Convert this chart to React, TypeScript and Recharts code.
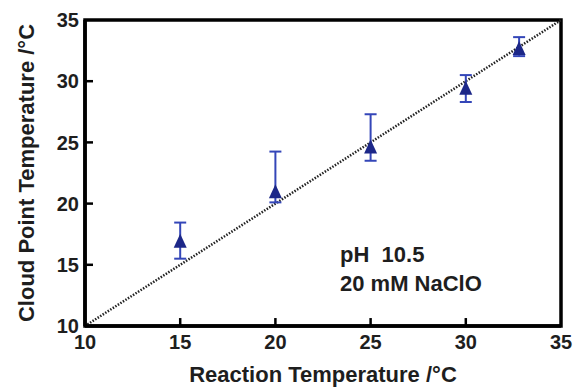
import {
  ScatterChart,
  Scatter,
  XAxis,
  YAxis,
  ErrorBar,
  ReferenceLine,
  ReferenceArea,
  Label
} from "recharts";

// reaction temperature (x) vs cloud point temperature (y), with error range
const reactionTemp = [15, 20, 25, 30, 32.8];
const cloudPoint = [16.8, 20.85, 24.5, 29.3, 32.55];
const cloudLow = [15.5, 20.1, 23.5, 28.3, 32.05];
const cloudHigh = [18.45, 24.25, 27.3, 30.5, 33.6];

const xTicks = [10, 15, 20, 25, 30, 35];
const yTicks = [10, 15, 20, 25, 30, 35];
const innerXTicks = [15, 20, 25, 30];
const innerYTicks = [15, 20, 25, 30];

// inward tick length, in axis units
const TICK_DX = 0.42;
const TICK_DY = 0.65;

const data = reactionTemp.map((x, i) => ({
  x,
  y: cloudPoint[i],
  err: [cloudPoint[i] - cloudLow[i], cloudHigh[i] - cloudPoint[i]]
}));

const FONT = "'Liberation Sans', Arial, sans-serif";
const TEXT = "#1e1e1e";

const tickText = { fontFamily: FONT, fontWeight: "bold" as const, fontSize: 20, fill: TEXT };

const XTick = (props: any) => {
  const { x, y, payload } = props;
  return (
    <text x={x} y={y} dy="0.75em" textAnchor="middle" style={tickText}>
      {payload.value}
    </text>
  );
};

const YTick = (props: any) => {
  const { x, y, payload } = props;
  return (
    <text x={x} y={y} dx={2} dy="0.355em" textAnchor="end" style={tickText}>
      {payload.value}
    </text>
  );
};

const Triangle = (props: any) => {
  const { cx, cy } = props;
  if (cx == null || cy == null) return null;
  const pts = `${cx},${cy - 9} ${cx - 6.5},${cy + 5} ${cx + 6.5},${cy + 5}`;
  return <polygon points={pts} fill="#1c2788" />;
};

const YTitle = (props: any) => {
  const vb = props.viewBox || {};
  const cx = 26;
  const cy = vb.y + vb.height / 2;
  return (
    <text
      x={cx}
      y={cy}
      transform={`rotate(-90 ${cx} ${cy})`}
      textAnchor="middle"
      dominantBaseline="central"
      style={{ fontFamily: FONT, fontWeight: "bold", fontSize: 22, fill: TEXT }}
    >
      Cloud Point Temperature /°C
    </text>
  );
};

const XTitle = (props: any) => {
  const vb = props.viewBox || {};
  const cx = vb.x + vb.width / 2;
  return (
    <text
      x={cx}
      y={382}
      textAnchor="middle"
      style={{ fontFamily: FONT, fontWeight: "bold", fontSize: 22, fill: TEXT }}
    >
      Reaction Temperature /°C
    </text>
  );
};

export default function App() {
  return (
    <div style={{ position: "absolute", left: 0, top: 0, width: 574, height: 388, background: "#fff" }}>
      <ScatterChart
        width={574}
        height={388}
        margin={{ top: 20, right: 13, bottom: 0, left: 0 }}
      >
        <XAxis
          type="number"
          dataKey="x"
          domain={[10, 35]}
          ticks={xTicks}
          allowDataOverflow
          height={62}
          tickLine={false}
          tick={<XTick />}
          axisLine={{ stroke: "#000", strokeWidth: 3.5 }}
        >
          <Label content={<XTitle />} />
        </XAxis>
        <YAxis
          type="number"
          dataKey="y"
          domain={[10, 35]}
          ticks={yTicks}
          allowDataOverflow
          width={85}
          tickLine={false}
          tick={<YTick />}
          axisLine={{ stroke: "#000", strokeWidth: 3.5 }}
        >
          <Label content={<YTitle />} />
        </YAxis>
        <ReferenceArea
          x1={10}
          x2={35}
          y1={10}
          y2={35}
          fill="none"
          stroke="#000"
          strokeWidth={3.5}
          ifOverflow="visible"
        />
        {innerXTicks.map((t) => (
          <ReferenceLine
            key={`xt${t}`}
            segment={[{ x: t, y: 10 }, { x: t, y: 10 + TICK_DY }]}
            stroke="#000"
            strokeWidth={2.5}
          />
        ))}
        {innerYTicks.map((t) => (
          <ReferenceLine
            key={`yt${t}`}
            segment={[{ x: 10, y: t }, { x: 10 + TICK_DX, y: t }]}
            stroke="#000"
            strokeWidth={2.5}
          />
        ))}
        <ReferenceLine
          segment={[{ x: 10, y: 10 }, { x: 35, y: 35 }]}
          stroke="#222"
          strokeWidth={2.5}
          strokeDasharray="1.5 1.5"
        />
        <Scatter data={data} shape={<Triangle />} isAnimationActive={false}>
          <ErrorBar
            dataKey="err"
            direction="y"
            width={6}
            stroke="#3446b8"
            strokeWidth={2}
            isAnimationActive={false}
          />
        </Scatter>
      </ScatterChart>
      <div
        style={{
          position: "absolute",
          left: 340,
          top: 240,
          fontFamily: FONT,
          fontWeight: "bold",
          fontSize: 22,
          lineHeight: "29px",
          color: TEXT,
          whiteSpace: "pre"
        }}
      >
        {"pH  10.5\n20 mM NaClO"}
      </div>
    </div>
  );
}
